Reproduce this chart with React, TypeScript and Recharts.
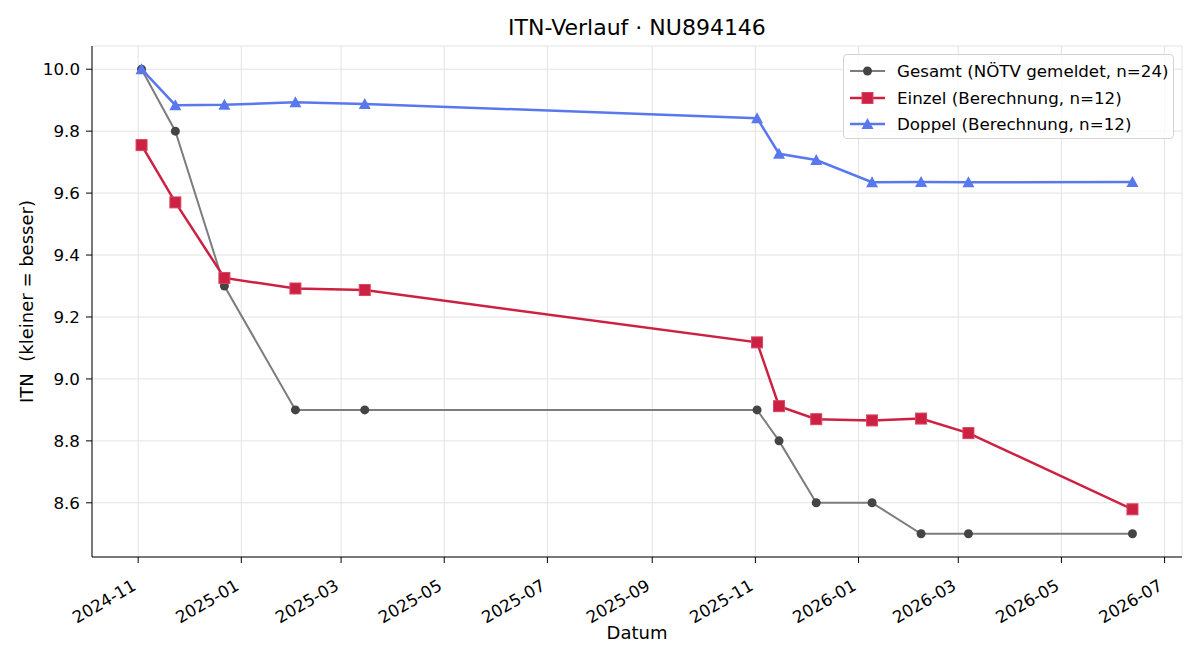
import { LineChart, Line, XAxis, YAxis, CartesianGrid, Legend } from "recharts";

const FONT = '"DejaVu Sans", sans-serif';

// Messzeitpunkte
const dates = [
  "2024-11-03", "2024-11-23", "2024-12-22", "2025-02-02", "2025-03-15", "2025-11-02",
  "2025-11-15", "2025-12-07", "2026-01-09", "2026-02-07", "2026-03-07", "2026-06-12",
];
const gesamt = [10.0, 9.8, 9.3, 8.9, 8.9, 8.9, 8.8, 8.6, 8.6, 8.5, 8.5, 8.5];
const einzel = [9.755, 9.57, 9.326, 9.292, 9.287, 9.118, 8.912, 8.87, 8.866, 8.872, 8.825, 8.579];
const doppel = [10.0, 9.884, 9.885, 9.893, 9.888, 9.842, 9.727, 9.707, 9.635, 9.636, 9.635, 9.636];

const monthTicks = [
  "2024-11", "2025-01", "2025-03", "2025-05", "2025-07", "2025-09",
  "2025-11", "2026-01", "2026-03", "2026-05", "2026-07",
];
const yTicks = [8.6, 8.8, 9.0, 9.2, 9.4, 9.6, 9.8, 10.0];

const toTime = (s: string) => {
  const [y, m, d] = s.split("-").map(Number);
  return Date.UTC(y, m - 1, d || 1);
};

const fmtMonth = (t: number) => {
  const d = new Date(t);
  return `${d.getUTCFullYear()}-${String(d.getUTCMonth() + 1).padStart(2, "0")}`;
};

const rows = dates.map((d, i) => ({
  t: toTime(d),
  gesamt: gesamt[i],
  einzel: einzel[i],
  doppel: doppel[i],
}));

// matplotlib-artige 5% Ränder
const times = rows.map((r) => r.t);
const tMin = Math.min(...times);
const tMax = Math.max(...times);
const tPad = (tMax - tMin) * 0.05;
const allVals = [...gesamt, ...einzel, ...doppel];
const vMin = Math.min(...allVals);
const vMax = Math.max(...allVals);
const vPad = (vMax - vMin) * 0.05;

const GRAY_LINE = "#7d7d7d";
const GRAY_DOT = "#444444";
const RED = "#cc2143";
const BLUE = "#5a78ee";

const series = [
  { key: "gesamt", name: "Gesamt (NÖTV gemeldet, n=24)", color: GRAY_LINE, marker: "circle" },
  { key: "einzel", name: "Einzel (Berechnung, n=12)", color: RED, marker: "square" },
  { key: "doppel", name: "Doppel (Berechnung, n=12)", color: BLUE, marker: "triangle" },
];

const Marker = ({ type, cx, cy }: { type: string; cx: number; cy: number }) => {
  if (type === "circle") return <circle cx={cx} cy={cy} r={4.5} fill={GRAY_DOT} />;
  if (type === "square")
    return <rect x={cx - 5.5} y={cy - 5.5} width={11} height={11} fill={RED} stroke="#d8455f" strokeWidth={1} />;
  return <polygon points={`${cx},${cy - 6} ${cx + 6},${cy + 5} ${cx - 6},${cy + 5}`} fill={BLUE} />;
};

const makeDot = (type: string) => (props: any) => {
  const { cx, cy, index } = props;
  if (cx == null || cy == null) return <g key={`${type}-${index}`} />;
  return (
    <g key={`${type}-${index}`}>
      <Marker type={type} cx={cx} cy={cy} />
    </g>
  );
};

const DateTick = (props: any) => {
  const { x, y, payload } = props;
  const px = x - 1;
  const py = y + 24;
  return (
    <text x={px} y={py} textAnchor="end" fontSize={16.7} fontFamily={FONT} fill="#000" transform={`rotate(-30, ${px}, ${py})`}>
      {fmtMonth(payload.value)}
    </text>
  );
};

const renderLegend = () => (
  <div
    style={{
      boxSizing: "border-box",
      width: 331,
      height: 85,
      border: "1px solid #d4d4d4",
      borderRadius: 4,
      background: "rgba(255,255,255,0.8)",
      padding: "3px 0 0 6px",
      fontFamily: FONT,
      fontSize: 16.7,
      color: "#000",
      textAlign: "left",
    }}
  >
    {series.map((s) => (
      <div key={s.key} style={{ display: "flex", alignItems: "center", height: 26.5 }}>
        <svg width={35} height={14} style={{ flex: "none" }}>
          <line x1={0} y1={7} x2={35} y2={7} stroke={s.color} strokeWidth={s.marker === "circle" ? 2 : 2.5} />
          <Marker type={s.marker} cx={17.5} cy={7} />
        </svg>
        <span style={{ marginLeft: 12, whiteSpace: "nowrap" }}>{s.name}</span>
      </div>
    ))}
  </div>
);

export default function App() {
  return (
    <div style={{ position: "absolute", left: 0, top: 0, width: 1200, height: 660, background: "#fff" }}>
      <div
        style={{
          position: "absolute",
          left: 92,
          width: 1090,
          top: 17,
          textAlign: "center",
          fontFamily: FONT,
          fontSize: 22,
          lineHeight: "22px",
          color: "#000",
        }}
      >
        ITN-Verlauf · NU894146
      </div>
      <LineChart width={1200} height={660} data={rows} margin={{ top: 46, right: 18, bottom: 0, left: 0 }}>
        <CartesianGrid stroke="#e3e3e3" strokeWidth={1} />
        <XAxis
          dataKey="t"
          type="number"
          scale="time"
          domain={[tMin - tPad, tMax + tPad]}
          ticks={monthTicks.map(toTime)}
          tick={<DateTick />}
          tickSize={6}
          tickMargin={2}
          height={103}
          interval={0}
          allowDataOverflow
          axisLine={{ stroke: "#000", strokeWidth: 1 }}
          tickLine={{ stroke: "#000" }}
          label={{ value: "Datum", position: "insideBottom", offset: 21, fontSize: 18, fontFamily: FONT, fill: "#000" }}
        />
        <XAxis
          xAxisId="top"
          orientation="top"
          dataKey="t"
          type="number"
          domain={[tMin - tPad, tMax + tPad]}
          height={0}
          tick={false}
          tickLine={false}
          axisLine={{ stroke: "#000", strokeWidth: 1 }}
        />
        <YAxis
          type="number"
          domain={[vMin - vPad, vMax + vPad]}
          ticks={yTicks}
          allowDataOverflow
          width={92}
          tickSize={6}
          tickMargin={6}
          tickFormatter={(v: number) => v.toFixed(1)}
          tick={{ fontSize: 16.7, fontFamily: FONT, fill: "#000" }}
          axisLine={{ stroke: "#000", strokeWidth: 1 }}
          tickLine={{ stroke: "#000" }}
          label={(p: any) => {
            const vb = p.viewBox || { y: 46, height: 511 };
            const cy = vb.y + vb.height / 2;
            return (
              <text x={26} y={cy} textAnchor="middle" dominantBaseline="central" fontSize={18} fontFamily={FONT} fill="#000" style={{ whiteSpace: "pre" }} transform={`rotate(-90, 26, ${cy})`}>
                ITN  (kleiner = besser)
              </text>
            );
          }}
        />
        <YAxis
          yAxisId="right"
          orientation="right"
          domain={[vMin - vPad, vMax + vPad]}
          width={0}
          tick={false}
          tickLine={false}
          axisLine={{ stroke: "#000", strokeWidth: 1 }}
        />
        <Legend
          layout="vertical"
          align="center"
          verticalAlign="middle"
          content={renderLegend}
          wrapperStyle={{ left: 843, top: 54, width: 331, height: 85 }}
        />
        <Line dataKey="gesamt" name={series[0].name} stroke={GRAY_LINE} strokeWidth={2} dot={makeDot("circle")} activeDot={false} isAnimationActive={false} />
        <Line dataKey="einzel" name={series[1].name} stroke={RED} strokeWidth={2.5} dot={makeDot("square")} activeDot={false} isAnimationActive={false} />
        <Line dataKey="doppel" name={series[2].name} stroke={BLUE} strokeWidth={2.5} dot={makeDot("triangle")} activeDot={false} isAnimationActive={false} />
      </LineChart>
    </div>
  );
}
